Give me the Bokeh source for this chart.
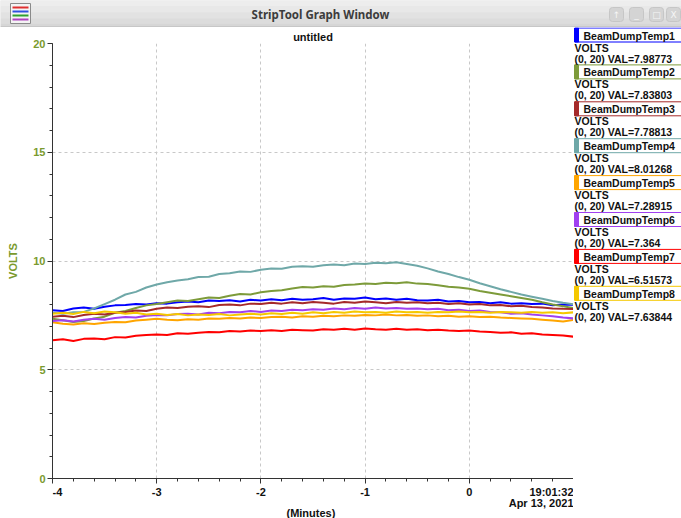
from bokeh.plotting import figure
from bokeh.models import Range1d, FixedTicker, ColumnDataSource, Title
from bokeh.layouts import column, row
from bokeh.embed import file_html
from bokeh.resources import INLINE
from bokeh.core.properties import value

# ---------------- data ----------------
minutes = [round(-4 + 0.1 * i, 1) for i in range(51)]

temp1 = [7.74, 7.70, 7.82, 7.86, 7.80, 7.90, 7.96, 7.98, 8.02, 8.00,
         8.06, 8.04, 8.10, 8.14, 8.10, 8.18, 8.16, 8.20, 8.14, 8.22,
         8.18, 8.24, 8.20, 8.26, 8.22, 8.24, 8.30, 8.22, 8.28, 8.26,
         8.32, 8.24, 8.28, 8.22, 8.26, 8.20, 8.18, 8.22, 8.14, 8.16,
         8.10, 8.12, 8.06, 8.10, 8.04, 8.06, 8.02, 8.04, 7.96, 8.00, 7.99]
temp2 = [7.34, 7.28, 7.20, 7.24, 7.36, 7.44, 7.62, 7.70, 7.84, 7.96,
         8.02, 8.10, 8.18, 8.16, 8.24, 8.32, 8.30, 8.40, 8.48, 8.46,
         8.56, 8.62, 8.66, 8.74, 8.80, 8.78, 8.84, 8.82, 8.90, 8.92,
         8.96, 8.94, 9.00, 8.98, 9.02, 8.96, 8.94, 8.88, 8.82, 8.78,
         8.72, 8.62, 8.54, 8.46, 8.38, 8.30, 8.22, 8.10, 8.00, 7.92, 7.84]
temp3 = [7.44, 7.48, 7.42, 7.52, 7.58, 7.54, 7.62, 7.66, 7.72, 7.70,
         7.80, 7.86, 7.84, 7.90, 7.92, 7.88, 7.98, 8.00, 7.96, 8.04,
         8.02, 8.08, 8.04, 8.10, 8.06, 8.12, 8.08, 8.04, 8.12, 8.08,
         8.14, 8.10, 8.06, 8.12, 8.08, 8.10, 8.06, 8.08, 8.02, 8.06,
         8.00, 8.02, 7.96, 7.98, 7.92, 7.94, 7.88, 7.86, 7.82, 7.80, 7.79]
temp4 = [7.62, 7.58, 7.64, 7.66, 7.82, 8.02, 8.22, 8.46, 8.58, 8.78,
         8.92, 9.02, 9.10, 9.16, 9.26, 9.28, 9.40, 9.44, 9.52, 9.50,
         9.60, 9.66, 9.64, 9.74, 9.76, 9.74, 9.80, 9.84, 9.80, 9.88,
         9.86, 9.92, 9.90, 9.94, 9.86, 9.78, 9.66, 9.52, 9.40, 9.26,
         9.14, 8.98, 8.84, 8.70, 8.58, 8.46, 8.36, 8.26, 8.16, 8.08, 8.01]
temp5 = [7.18, 7.12, 7.08, 7.14, 7.10, 7.16, 7.20, 7.18, 7.26, 7.30,
         7.34, 7.30, 7.28, 7.32, 7.30, 7.36, 7.34, 7.38, 7.36, 7.40,
         7.38, 7.42, 7.44, 7.40, 7.46, 7.44, 7.48, 7.46, 7.50, 7.48,
         7.52, 7.50, 7.54, 7.50, 7.52, 7.48, 7.50, 7.46, 7.48, 7.44,
         7.46, 7.42, 7.44, 7.40, 7.38, 7.36, 7.34, 7.30, 7.26, 7.22, 7.29]
temp6 = [7.24, 7.28, 7.22, 7.30, 7.34, 7.30, 7.38, 7.42, 7.40, 7.48,
         7.52, 7.50, 7.56, 7.58, 7.54, 7.62, 7.60, 7.66, 7.64, 7.70,
         7.66, 7.72, 7.70, 7.76, 7.74, 7.78, 7.76, 7.82, 7.78, 7.84,
         7.80, 7.86, 7.82, 7.84, 7.80, 7.82, 7.78, 7.80, 7.74, 7.76,
         7.70, 7.72, 7.66, 7.64, 7.58, 7.60, 7.54, 7.50, 7.46, 7.40, 7.36]
temp7 = [6.36, 6.40, 6.32, 6.42, 6.44, 6.40, 6.50, 6.48, 6.56, 6.60,
         6.62, 6.60, 6.68, 6.66, 6.70, 6.74, 6.72, 6.78, 6.76, 6.80,
         6.78, 6.82, 6.78, 6.84, 6.82, 6.80, 6.86, 6.84, 6.88, 6.84,
         6.90, 6.86, 6.84, 6.88, 6.84, 6.86, 6.82, 6.84, 6.80, 6.78,
         6.80, 6.76, 6.74, 6.70, 6.72, 6.66, 6.68, 6.62, 6.60, 6.58, 6.52]
temp8 = [7.58, 7.62, 7.56, 7.66, 7.60, 7.68, 7.64, 7.58, 7.62, 7.54,
         7.58, 7.52, 7.56, 7.50, 7.54, 7.52, 7.56, 7.50, 7.54, 7.58,
         7.54, 7.60, 7.56, 7.62, 7.58, 7.64, 7.60, 7.66, 7.62, 7.68,
         7.64, 7.66, 7.62, 7.68, 7.64, 7.66, 7.62, 7.66, 7.64, 7.68,
         7.64, 7.66, 7.62, 7.66, 7.64, 7.62, 7.66, 7.62, 7.64, 7.60, 7.64]

series_names = ["BeamDumpTemp1", "BeamDumpTemp2", "BeamDumpTemp3", "BeamDumpTemp4",
                "BeamDumpTemp5", "BeamDumpTemp6", "BeamDumpTemp7", "BeamDumpTemp8"]
series_values = [temp1, temp2, temp3, temp4, temp5, temp6, temp7, temp8]
series_colors = ["#0000ff", "#7d9b3a", "#a52a2a", "#6fa8a8",
                 "#ffa500", "#a040f0", "#ff0000", "#f5c800"]
series_units = ["VOLTS"] * 8
series_ranges = ["(0, 20)"] * 8
last_values = ["7.98773", "7.83803", "7.78813", "8.01268",
               "7.28915", "7.364", "6.51573", "7.63844"]

y_ticks = [0, 5, 10, 15, 20]
x_ticks = [-4, -3, -2, -1, 0, 1]
x_tick_labels = ["-4", "-3", "-2", "-1", "0"]
end_time = "19:01:32"
end_date = "Apr 13, 2021"
window_title = "StripTool Graph Window"
graph_title = "untitled"
x_label = "(Minutes)"
y_label = "VOLTS"

FONT = "Liberation Sans"
OLIVE = "#7a9a2e"
X0, X1 = -4, 1
FRAME_LEFT, PLOT_W = 52, 573

# ---------------- title bar ----------------
tb = figure(width=681, height=27, x_range=Range1d(0, 681), y_range=Range1d(27, 0),
            x_axis_location=None, y_axis_location=None, toolbar_location=None,
            output_backend="svg", min_border=0, title=None)
tb.grid.visible = False
tb.outline_line_color = None
tb.background_fill_color = "#e4e4e4"
tb.border_fill_color = "#e4e4e4"
band_tops = [0, 6, 12, 18, 23]
band_bottoms = [6, 12, 18, 23, 27]
band_colors = ["#ededed", "#e8e8e8", "#e2e2e2", "#dcdcdc", "#d6d6d6"]
tb.quad(left=0, right=681, top=band_tops, bottom=band_bottoms, color=band_colors, line_color=None)
tb.segment(x0=[0], y0=[26.5], x1=[681], y1=[26.5], line_color="#b8b8b8", line_width=1)
tb.quad(left=[10], right=[30], top=[3], bottom=[23], fill_color="#f4f4f4", line_color="#8a8a8a")
tb.segment(x0=[12, 12, 12, 12], y0=[7, 11, 15, 19], x1=[28, 28, 28, 28], y1=[7, 11, 15, 19],
           line_color=["#e03030", "#3050e0", "#30a030", "#b040c0"], line_width=2)
tb.text(x=[320], y=[14], text=[window_title], text_font=value("Noto Sans"),
        text_font_style="bold", text_font_size="11.5px", text_align="center",
        text_baseline="middle", text_color="#3c3c3c")
btn_x = [616, 636, 656, 673]
tb.quad(left=[b - 7 for b in btn_x], right=[b + 7 for b in btn_x], top=7,
        bottom=21, fill_color="#d4d4d4", line_color="#c6c6c6", border_radius=3)
tb.text(x=btn_x, y=14, text=["\u2191", "_", "\u25a1", "X"], text_font=value("DejaVu Sans"),
        text_font_size="9px", text_align="center", text_baseline="middle", text_color="#f6f6f6")

# ---------------- main plot ----------------
P_H = 457
x_range = Range1d(X0, X1)
p = figure(width=PLOT_W, height=P_H, x_range=x_range, y_range=Range1d(0, 20),
           toolbar_location=None, output_backend="svg",
           min_border_left=FRAME_LEFT, min_border_right=0, min_border_top=16, min_border_bottom=6)
p.title = Title(text=graph_title, align="center", text_font=FONT, text_font_style="bold",
                text_font_size="11px", text_color="#111111", standoff=2)
p.outline_line_color = None
p.background_fill_color = "white"
p.border_fill_color = "white"

for vals, col in zip(series_values, series_colors):
    p.line(minutes, vals, line_color=col, line_width=2)

p.xaxis.ticker = FixedTicker(ticks=x_ticks, minor_ticks=[round(-4 + 0.2 * i, 1) for i in range(26)])
p.yaxis.ticker = FixedTicker(ticks=y_ticks, minor_ticks=list(range(0, 21)))

for ax in (p.xaxis[0], p.yaxis[0]):
    ax.axis_line_color = "#333333"
    ax.major_tick_line_color = "#333333"
    ax.minor_tick_line_color = "#333333"
    ax.major_tick_in = 0
    ax.minor_tick_in = 0
    ax.major_tick_out = 5
    ax.minor_tick_out = 3
    ax.major_label_text_font = FONT
    ax.major_label_text_font_style = "bold"
    ax.major_label_text_font_size = "11px"
    ax.major_label_standoff = 2

# x tick labels are written in the strip below, aligned through the shared x range
p.xaxis.major_label_text_color = None
p.xaxis.major_label_text_font_size = "0px"
p.xaxis.major_label_standoff = 0
p.yaxis.major_label_text_color = OLIVE
p.yaxis.axis_label = y_label
p.yaxis.axis_label_text_color = OLIVE
p.yaxis.axis_label_text_font = FONT
p.yaxis.axis_label_text_font_style = "bold"
p.yaxis.axis_label_text_font_size = "11px"
p.yaxis.axis_label_standoff = 11

p.xgrid.ticker = FixedTicker(ticks=x_ticks)
p.ygrid.ticker = FixedTicker(ticks=y_ticks)
for g in (p.xgrid[0], p.ygrid[0]):
    g.grid_line_color = "#c8c8c8"
    g.grid_line_dash = "3 3"
    g.grid_line_width = 1

# ---------------- bottom strip: x tick labels, date, axis title ----------------
B_H = 518 - 27 - P_H
bt = figure(width=PLOT_W, height=B_H, x_range=x_range, y_range=Range1d(B_H, 0),
            x_axis_location=None, y_axis_location=None, toolbar_location=None,
            output_backend="svg", min_border_left=FRAME_LEFT, min_border_right=0,
            min_border_top=0, min_border_bottom=0, title=None)
bt.grid.visible = False
bt.outline_line_color = None
bt.background_fill_color = "white"
bt.border_fill_color = "white"
lbl_font = dict(text_font=value(FONT), text_font_style="bold", text_font_size="11px",
                text_baseline="middle", text_color="#111111")
bt.text(x=x_ticks[:1], y=7, text=x_tick_labels[:1], text_align="left", **lbl_font)
bt.text(x=x_ticks[1:5], y=7, text=x_tick_labels[1:], text_align="center", **lbl_font)
bt.text(x=[X1, X1], y=[7, 18], text=[end_time, end_date], text_align="right", **lbl_font)
bt.text(x=[(X0 + X1) / 2 - 0.02], y=[28], text=[x_label], text_align="center", **lbl_font)

# ---------------- legend panel ----------------
LG_H = 491
lg = figure(width=108, height=LG_H, x_range=Range1d(0, 108), y_range=Range1d(LG_H, 0),
            x_axis_location=None, y_axis_location=None, toolbar_location=None,
            output_backend="svg", min_border=0, title=None)
lg.grid.visible = False
lg.outline_line_color = None
lg.background_fill_color = "white"
lg.border_fill_color = "white"

step = 36.9
tops = [0.5 + step * i for i in range(len(series_names))]
src = ColumnDataSource(dict(
    top=tops,
    bottom=[t + 14 for t in tops],
    ytitle=[t + 7.5 for t in tops],
    yunit=[t + 19.5 for t in tops],
    yval=[t + 30.5 for t in tops],
    name=series_names,
    color=series_colors,
    unit=series_units,
    info=[f"{r} VAL={v}" for r, v in zip(series_ranges, last_values)],
))
lg.quad(left=1.5, right=130, top="top", bottom="bottom", fill_color="white",
        line_color="color", line_width=1, source=src)
lg.quad(left=1, right=5, top="top", bottom="bottom", fill_color="color",
        line_color="color", line_width=1, source=src)
lg.text(x=10, y="ytitle", text="name", source=src, text_font=value(FONT),
        text_font_style="bold", text_font_size="10.5px", text_baseline="middle",
        text_color="#111111")
lg.text(x=1, y="yunit", text="unit", source=src, text_font=value(FONT),
        text_font_style="bold", text_font_size="10.5px", text_baseline="middle",
        text_color="#111111")
lg.text(x=1, y="yval", text="info", source=src, text_font=value(FONT),
        text_font_style="bold", text_font_size="10.5px", text_baseline="middle",
        text_color="#111111")

layout = column(tb, row(column(p, bt, spacing=0), lg, spacing=0), spacing=0)
open("out.html", "w").write(file_html(layout, INLINE))
